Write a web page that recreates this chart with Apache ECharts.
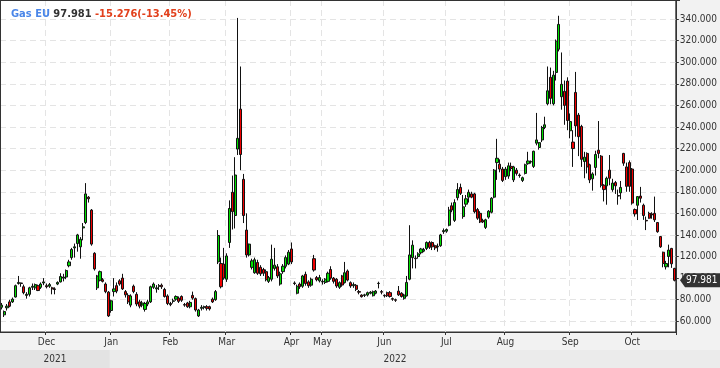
<!DOCTYPE html>
<html>
<head>
<meta charset="utf-8">
<script src="https://cdn.jsdelivr.net/npm/echarts@6/dist/echarts.min.js"></script>
<style>html,body{margin:0;padding:0;background:#fff}#c{width:720px;height:368px}</style>
</head>
<body>
<div id="c"></div>
<script>
// ---- data ----
const months = ['Nov','Dec','Jan','Feb','Mar','Apr','May','Jun','Jul','Aug','Sep','Oct'];
const monthYears = [2021,2021,2022,2022,2022,2022,2022,2022,2022,2022,2022,2022];
const monthCounts = [16,23,21,20,23,11,22,22,21,23,22,16];

const opens = [
 // Nov
 73,66,72.5,78,78,82.5,95,95.5,92,84,85,91.5,91,93,91.5,95.5,
 // Dec
 93,92.5,91,90,94.5,96.5,100,101,111.5,119,128,132,129,146.5,151.5,175,163,123,91,98,98.5,94.5,87,
 // Jan
 70,87.5,93,97.5,100,87.5,84,75,92.5,85,78,75,71,76,78,91.5,90,92.5,93.5,89.5,83.5,
 // Feb
 76.5,78.5,80.5,81.5,83,75.5,77,73.5,84,81,65,72,73,73.5,73.5,80.5,80,115,113.5,113,
 // Mar
 99,133,179.5,158,219.5,256.5,191.5,144.5,121.5,110,105,114.5,110,108,106,97,99,109,110.5,94.5,106,111,113,
 // Apr
 127,95.5,86,94.5,92.5,103.5,96.5,93.5,118,100.5,97.5,
 // May
 96.5,96,97,108,100,99,91.5,102,95.8,106.6,95.8,93,93.3,87.5,84.3,84,84.3,86,83.7,86,95,87.5,
 // Jun
 84,86.5,86.5,81,80,88,86,81.3,83.5,99,119,118.5,120,123.5,125,127.5,133,133,130,129,130,143,
 // Jul
 143.5,149,167,153.5,174.5,184,157,168.5,175,178,178,163.5,160,153.5,147,156.5,161,175,207,205.5,201,
 // Aug
 194,194.5,203.5,191,200,195.5,190.5,197,206,207.5,203.5,225,221,228,239.5,261.5,286,261.5,290.5,312,268,273,282.5,
 // Sep
 236.5,226,272,251,240.5,208,215.5,205,192,202.5,218.5,213,186,185.5,200,182,188.5,176.5,179,215.5,203,207,
 // Oct
 201,163.5,167.5,176,167.5,153.5,160,159.5,160,151.5,138.5,124,110.5,120,127.5,109
];
const closes = [
 75,69,74,74,80.5,93,96,95,86.5,85,91,92.5,94,88.5,94.5,96.5,
 92,94,90,89.5,96,101.5,101,107,115,126.5,129,140,136,147.5,178,173.5,131.5,108.5,102,106,97,87.5,65,
 79,90,88,94.5,90,84.5,78,83.5,87.5,76,74,77,76.5,78,92,94.5,91,93,92,83,76.5,
 75.5,79,83,78.5,79.5,75,73.5,77.5,81.5,70.5,70.5,73,73.5,72,71.5,78,87.5,139.5,92,100,
 120.5,164.5,161.5,195.5,229.5,214.5,158,121.5,131.5,116,117,104.5,104,104.5,98.5,100.5,117.5,112,102,104,111,119,124,
 115,95,92.5,92,102,95,93,99,107.5,98.5,100.5,
 97,99,104.5,100,97,92.7,95.8,93.6,105,98.2,92.7,94,89.6,87,82.8,84.5,86.5,87,87.4,88,95.2,87,
 83.5,83.7,83,80.5,79.5,84.5,83,84.3,96,121.5,130.5,118,122.5,127,126.5,133,128.5,129,128,129.5,140,144,
 145,163,163,170,182,178.5,166,173.5,179.5,175,161.5,155.5,152,152,154,162,174,200,211,201,190.5,
 201,204,201.5,203,197,195,193,205,208.5,208,217.5,228,225.5,239.5,242,273.5,266.5,288,319.5,335,279.5,260,246,
 245,220,241,231,210,212,203,191,196.5,214.5,215.5,186,182,192.5,192.5,188,185.5,176,184,206.5,185,185,
 169.5,159.5,175.5,174,158,153,155.5,158.5,154,143,129,113.5,113.5,126,113.257,97.981
];
const lows = [
 71,64,70,73,77,82,94,92,85,81,83,89,89,88,90,93.5,
 90.5,91,85,85,93.5,96,97,99,110,117,119,124.5,118,135,150,170,130,107,89,97,96,86,64,
 68,83,86,93,89,82,76,73,86,74,72,73,69,74,77,90,86.5,89,90,82,75,
 74,76.5,79,77,78,73.5,72.5,72,80,69,64,70,71,70,70,77,79,113,90.5,98.5,
 96.5,128,145,146,214,200,151,119,120,108,104,103,102,102,97,95.5,97,107,100,93,104,109,112,
 113,93.5,85,90,91,93,91,92,106,97,96,
 94,94.5,96,98.5,95,91,90,92,95,97,91,91,88,85,82,82.5,83,85,83,85,90.5,85,
 82,82.5,82,79,78,83.5,82,80,83,98,109,109,118,122,124,126,127,126,126,124.5,129,141,
 142,148,161,152,172,177,155,166,170,174,160,154,151,151,145.5,155,160,174,191,198,189,
 191,192,199,189,195,193,189,196,205,206,202,223,219,226,238,260,261,260,283,310,256,242,237,
 229.5,203,231,213,203,192.5,197,188,181,195,211,184,171,168,186,180,178,168,173,204,180,180,
 168,157,153.8,170,154,144.5,155,155,152,142,128,110,108,110,109.5,97
];
const highs = [
 77,70,76,80,82,94,102,96,94,87,92,95,95,94,96,100,
 95,95.5,92,91.5,97,104.5,104,108,117,128,132,141,138,151,188,176,164,124,103,107,100,96,88,
 80,100,96,99,104,89,86,85,94,87,80,79,78,80,93,96,93.5,94.5,95,91,85,
 78,81,84,83,84,77,78,79,87.5,82,71.5,75,74.5,75,74.5,82,89,144.5,119,128,
 123,172,195,212,341,296,196.5,160,132,118,119,117,112,109.5,108,102,131,128,113,106,113,121,126,
 133,97,94,96,103,106,98,100.5,121.5,102,103,
 99,100,106,111,101,100,97,103,115,108,97,96,94.5,89,85,85.5,87.5,88,88.5,89,96.7,89,
 85,87.5,88,82,81,92.7,87,85.5,102,149,135,121,124,128,128,134,134.5,134,131,132,141,146,
 146,166,170,173,188,187.5,177,177,182,180,179,165,162,155,155,163,175,201,229,210,203,
 203,207,207,204,202,197,194,206,217,209,218,253,226,241,249.5,296,295,292,321,343,309,283,286,
 252.5,237,291,253,242,217,216.5,206,198,218,245.5,214,187,194,214,192,190,182,190,216,207,209,
 202,164.5,176,184.5,169,157,161.5,161,175.5,152,139,124.5,116,131,128,109.5
];
const yTickFormat = 3; // decimals on price axis
const titleName = 'Gas EU';
const lastPrice = '97.981';
const change = '-15.276(-13.45%)';

// ---- build ----
const categories = [];
const monthStart = new Set();
const yearStart = {};
months.forEach((m, mi) => {
  monthStart.add(categories.length);
  if (!(monthYears[mi] in yearStart)) yearStart[monthYears[mi]] = categories.length;
  for (let d = 1; d <= monthCounts[mi]; d++) categories.push(m + ' ' + monthYears[mi] + ' #' + d);
});
const candles = opens.map((o, i) => [o, closes[i], lows[i], highs[i]]);
const isTick = (idx) => idx !== 0 && monthStart.has(idx);

const FONT = '"DejaVu Sans Condensed", "DejaVu Sans", sans-serif';
const chart = echarts.init(document.getElementById('c'), null, {renderer: 'canvas'});
chart.setOption({
  animation: false,
  backgroundColor: '#f2f2f2',
  title: {
    left: 6, top: 4,
    text: '{a|' + titleName + '} {b|' + lastPrice + '} {c|' + change + '}',
    textStyle: {
      fontSize: 11, fontWeight: 'bold', fontFamily: FONT,
      rich: {
        a: {color: '#4a86e8', fontSize: 11, fontWeight: 'bold', fontFamily: FONT},
        b: {color: '#333333', fontSize: 11, fontWeight: 'bold', fontFamily: FONT},
        c: {color: '#e2401c', fontSize: 11, fontWeight: 'bold', fontFamily: FONT}
      }
    }
  },
  grid: {
    left: 0, right: 40, top: 0, bottom: 36,
    show: true, backgroundColor: '#ffffff', borderColor: '#333', borderWidth: 1
  },
  xAxis: {
    type: 'category',
    data: categories,
    boundaryGap: true,
    axisLine: {lineStyle: {color: '#333'}},
    axisTick: {show: true, interval: isTick, length: 3, lineStyle: {color: '#333'}},
    axisLabel: {
      interval: isTick, color: '#333', fontSize: 10, fontFamily: FONT, margin: 5,
      formatter: (v) => v.split(' ')[0]
    },
    splitLine: {show: true, interval: isTick, lineStyle: {color: '#e4e4e4', type: [6, 4]}}
  },
  yAxis: {
    type: 'value',
    position: 'right',
    min: 50.1, max: 357.6,
    splitNumber: 15, minInterval: 20, maxInterval: 20,
    scale: true,
    axisLine: {show: true, lineStyle: {color: '#333'}},
    axisTick: {show: true, length: 3, lineStyle: {color: '#333'}},
    axisLabel: {
      showMinLabel: false, showMaxLabel: false,
      color: '#333', fontSize: 10, fontFamily: FONT, margin: 4,
      formatter: (v) => v.toFixed(yTickFormat)
    },
    splitLine: {show: true, lineStyle: {color: '#e4e4e4', type: [6, 4]}}
  },
  series: [{
    type: 'candlestick',
    data: candles,
    barWidth: 2.6,
    itemStyle: {
      color: '#00e000', color0: '#f00000',
      borderColor: '#111', borderColor0: '#111', borderWidth: 1
    }
  }]
});

// decorations computed from the chart's own scales
const band = 680 / categories.length;
const janX = chart.convertToPixel({xAxisIndex: 0}, yearStart[2022]) - band / 2;
const yLast = chart.convertToPixel({yAxisIndex: 0}, closes[closes.length - 1]);
chart.setOption({
  graphic: [
    {type: 'rect', z: -1, silent: true, shape: {x: 0, y: 350, width: janX, height: 18}, style: {fill: '#e3e3e3'}},
    {type: 'rect', z: -1, silent: true, shape: {x: janX, y: 350, width: 720 - janX, height: 18}, style: {fill: '#ebebeb'}},
    {type: 'line', z: 40, silent: true, shape: {x1: 0, y1: 0.5, x2: 680, y2: 0.5}, style: {stroke: '#333', lineWidth: 1}},
    {type: 'line', z: 40, silent: true, shape: {x1: 0.5, y1: 0, x2: 0.5, y2: 332}, style: {stroke: '#333', lineWidth: 1}},
    {type: 'text', z: 5, silent: true, x: janX / 2, y: 359,
     style: {text: String(monthYears[0]), fill: '#333', font: '10px ' + FONT, align: 'center', verticalAlign: 'middle'}},
    {type: 'text', z: 5, silent: true, x: (janX + 680) / 2, y: 359,
     style: {text: String(monthYears[2]), fill: '#333', font: '10px ' + FONT, align: 'center', verticalAlign: 'middle'}},
    {type: 'polygon', z: 50, silent: true,
     shape: {points: [[680, yLast], [685, yLast - 7], [720, yLast - 7], [720, yLast + 7], [685, yLast + 7]]},
     style: {fill: '#333'}},
    {type: 'text', z: 51, silent: true, x: 686, y: yLast,
     style: {text: lastPrice, fill: '#fff', font: '10px ' + FONT, align: 'left', verticalAlign: 'middle'}}
  ]
});
</script>
</body>
</html>
